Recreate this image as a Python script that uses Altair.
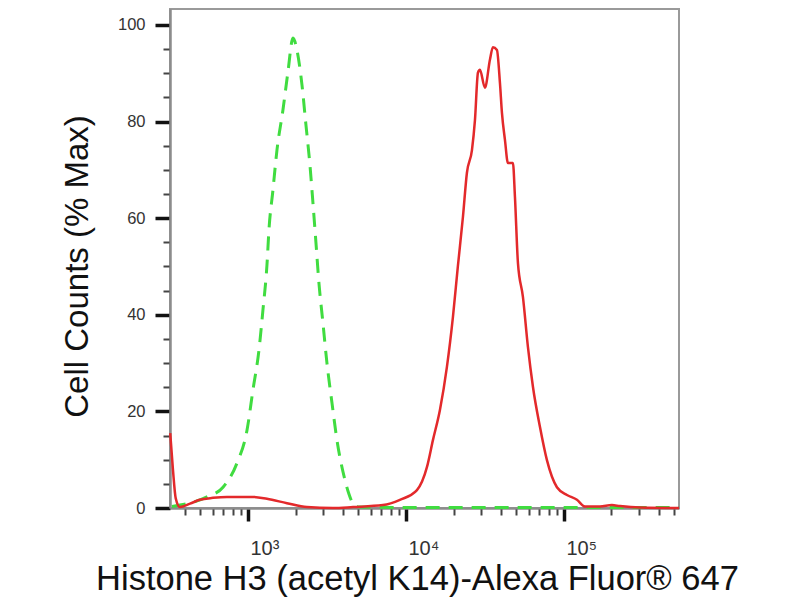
import altair as alt
import pandas as pd

# Isotype control (green dashed)
green_x = [330, 550, 695, 852, 986, 1075, 1174, 1244, 1319, 1358, 1439, 1526, 1665, 1791, 1927,
           2042, 2197, 2328, 2468, 2579, 2694, 2813, 2983, 3162, 3404, 3657, 4111, 4357, 4754,
           5112, 10000, 50000, 200000, 535000]
green_y = [0.3, 2.3, 4.3, 9.3, 16.1, 24.4, 32.7, 41.0, 50.3, 57.6, 65.8, 74.1, 82.4, 90.3, 97.3,
           94.8, 87.6, 79.3, 71.0, 63.1, 54.9, 46.6, 38.3, 30.0, 21.7, 14.1, 5.8, 2.9, 0.4,
           0.2, 0.1, 0.1, 0.1, 0.1]

# Sample (red solid)
red_x = [322, 335, 349, 371, 430, 496, 600, 736, 1076, 1319, 1766, 2360, 3452, 4624, 7147, 9160,
         11740, 13590, 14830, 16410, 18170, 19830, 21310, 22940, 24320, 26170, 27340, 28560,
         29400, 31620, 34010, 35530, 37660, 39350, 40520, 42330, 44230, 47560, 48970, 51160,
         55010, 59190, 63650, 70480, 78060, 90300, 104500, 120900, 135900, 169000, 201200,
         226200, 302700, 535000]
red_y = [15.5, 8.0, 2.0, 0.2, 0.9, 1.7, 2.1, 2.3, 2.3, 1.9, 1.0, 0.2, 0.0, 0.2, 0.6, 1.7,
         3.7, 8.5, 14.1, 20.3, 29.2, 39.5, 50.0, 60.2, 69.4, 74.1, 80.3, 90.1,
         90.7, 87.0, 92.8, 95.4, 94.8, 88.0, 81.8, 76.2, 71.4, 71.4, 64.4, 50.7,
         43.7, 33.3, 25.1, 16.8, 9.9, 4.3, 2.7, 1.7, 0.3, 0.3, 0.6,
         0.4, 0.1, 0.0]

x_major = [1000, 10000, 100000]
x_minor = [400, 500, 600, 700, 800, 900,
           2000, 3000, 4000, 5000, 6000, 7000, 8000, 9000,
           20000, 30000, 40000, 50000, 60000, 70000, 80000, 90000,
           200000, 300000, 400000, 500000]
y_major = [0, 20, 40, 60, 80, 100]
y_minor = [5, 10, 15, 25, 30, 35, 45, 50, 55, 65, 70, 75, 85, 90, 95]

x_domain = [321, 535000]
y_domain = [0, 103.3]

green_df = pd.DataFrame({"x": green_x, "y": green_y})
red_df = pd.DataFrame({"x": red_x, "y": red_y})

FONT = "Liberation Sans"
x_scale = alt.Scale(type="log", domain=x_domain, nice=False)
y_scale = alt.Scale(domain=y_domain, nice=False, zero=False)

x_axis_major = alt.Axis(
    orient="bottom", values=x_major, grid=False,
    labelExpr="datum.value == 1000 ? '10³' : datum.value == 10000 ? '10⁴' : '10⁵'",
    labelFont=FONT, labelFontSize=20, labelColor="#333333",
    labelAlign="left", labelBaseline="alphabetic", labelPadding=33, labelOffset=2,
    tickSize=13, tickWidth=3.5, tickColor="#111111",
    domainColor="#8c8c8c", domainWidth=2,
    title="Histone H3 (acetyl K14)-Alexa Fluor® 647",
    titleFont=FONT, titleFontSize=34.5, titleFontWeight="normal", titleColor="#111111",
    titleX=247, titleY=81, titleAlign="center", titleBaseline="alphabetic",
)
x_axis_minor = alt.Axis(
    orient="bottom", values=x_minor, grid=False, labels=False,
    tickSize=7, tickWidth=2, tickColor="#444444",
    domainColor="#8c8c8c", domainWidth=2, title="",
)
y_axis_major = alt.Axis(
    orient="left", values=y_major, grid=False,
    labelFont=FONT, labelFontSize=16.5, labelColor="#333333", labelPadding=10,
    tickSize=15, tickWidth=3.5, tickColor="#111111",
    domainColor="#8c8c8c", domainWidth=2,
    title="Cell Counts (% Max)",
    titleFont=FONT, titleFontSize=33, titleFontWeight="normal", titleColor="#111111",
    titleAngle=270, titleX=-83, titleY=257, titleAlign="center", titleBaseline="alphabetic",
)
y_axis_minor = alt.Axis(
    orient="left", values=y_minor, grid=False, labels=False,
    tickSize=7, tickWidth=2, tickColor="#444444",
    domainColor="#8c8c8c", domainWidth=2, title="",
)

green = alt.Chart(green_df).mark_line(
    color="#40dc40", strokeWidth=3, strokeDash=[14, 9], interpolate="monotone"
).encode(
    x=alt.X("x:Q", scale=x_scale, axis=x_axis_major),
    y=alt.Y("y:Q", scale=y_scale, axis=y_axis_major),
    order=alt.Order("x:Q"),
)

red = alt.Chart(red_df).mark_line(
    color="#e3292b", strokeWidth=2.5, interpolate="monotone"
).encode(
    x=alt.X("x:Q", scale=x_scale, axis=x_axis_minor),
    y=alt.Y("y:Q", scale=y_scale, axis=y_axis_minor),
    order=alt.Order("x:Q"),
)

chart = alt.layer(green, red).resolve_axis(
    x="independent", y="independent"
).properties(
    width=509, height=499,
    autosize=alt.AutoSizeParams(type="none"),
    padding={"left": 162, "top": 1, "right": 100, "bottom": 91},
    background="white",
).configure_view(
    stroke="#9a9a9a", strokeWidth=2
)

chart.save("out.html", embed_options={"renderer": "svg", "actions": False})
